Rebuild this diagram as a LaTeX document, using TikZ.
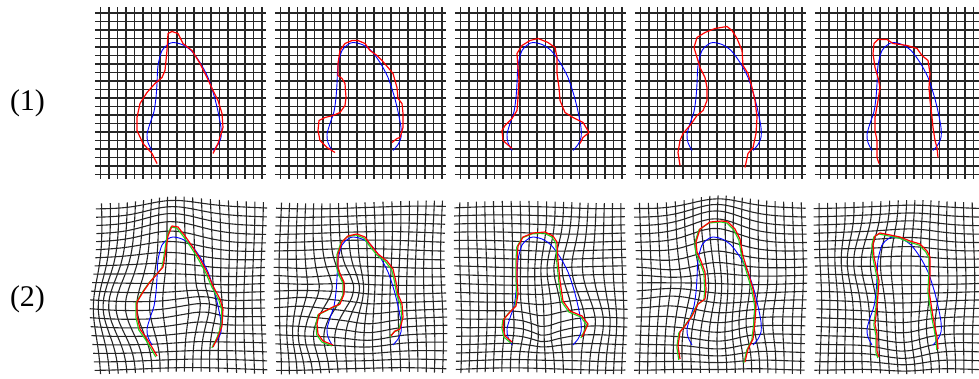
\documentclass[tikz,border=0pt]{standalone}
\usepackage{fontspec}
\setmainfont{Liberation Serif}
\definecolor{gtgreen}{RGB}{30,215,30}
\newcommand\plaingrid{\foreach \k in {0,...,19}{%
  \draw[gridline] ({5.5+8.5*\k},0) -- ({5.5+8.5*\k},171);
  \draw[gridline] (0,{5.5+8.5*\k}) -- (171,{5.5+8.5*\k});}}
\newcommand\warpgrid{\foreach \k in {0,...,19}{%
  \pgfmathsetmacro\gc{0.055+0.085*\k}%
  \draw[gridline] plot[smooth,variable=\t,domain=0:1.71,samples=17] ({100*(\gc+wx(\gc,\t))},{100*(\t+wy(\gc,\t))});
  \draw[gridline] plot[smooth,variable=\t,domain=0:1.71,samples=17] ({100*(\t+wx(\t,\gc))},{100*(\gc+wy(\t,\gc))});}}
\newcommand\tmplcurve{\draw[tmpl] plot[smooth] coordinates {(57,143) (53,135) (52,127) (55,116) (59,104) (61,90) (62,76) (63,58) (67,43) (73,37) (78,35) (87,37) (96,43) (105,55) (113,70) (119,88) (123,104) (126,120) (126,130) (123,137) (118,143)};}
\newcommand\estpair[1]{\draw[gtc] plot coordinates {#1};
  \draw[est] plot coordinates {#1};}
\begin{document}
\begin{tikzpicture}[x=1pt,y=1pt,
  gridline/.style={line width=1.1pt,black!85},
  tmpl/.style={blue,line width=0.9pt},
  est/.style={red,line width=1.2pt,line join=round},
  gtc/.style={gtgreen,line width=1.1pt,line join=round,shift={(-1.2,1)}},
  lab/.style={font=\fontsize{30}{36}\selectfont},
  declare function={gb(\pu,\pv,\pc,\pd,\ps)=exp(-((\pu-\pc)^2+(\pv-\pd)^2)/\ps);}]
\useasboundingbox (0,0) rectangle (979,378);
\clip (0,0) rectangle (979,378);
\node[lab] (lab1) at (27.5,275) {(1)};
\node[lab] (lab2) at (27.5,79) {(2)};
% row 1
\begin{scope}[shift={(95,370.5)},y=-1pt]
\plaingrid \tmplcurve
\draw[est] plot coordinates {(62,156) (57,146) (48,136) (42,123) (42,110) (45,96) (52,85) (60,76) (67,70) (70,63) (72,43) (73,26) (77,24) (83,26) (88,36) (97,43) (105,56) (112,70) (118,83) (123,93) (127,106) (128,120) (123,136) (118,146)};
\end{scope}
\begin{scope}[shift={(275,370.5)},y=-1pt]
\plaingrid \tmplcurve
\draw[est] plot coordinates {(60,145) (52,140) (45,133) (43,123) (44,113) (50,110) (58,108) (65,105) (70,98) (71,90) (70,76) (67,71) (63,68) (63,56) (65,43) (70,36) (77,33) (83,33) (90,36) (95,43) (102,48) (107,53) (113,60) (118,66) (122,80) (123,91) (127,96) (128,106) (128,120) (125,130) (122,131) (117,135)};
\end{scope}
\begin{scope}[shift={(455,370.5)},y=-1pt]
\plaingrid \tmplcurve
\draw[est] plot coordinates {(57,141) (48,133) (47,123) (50,118) (57,111) (62,103) (63,90) (64,73) (63,60) (62,46) (67,38) (75,33) (83,31) (93,35) (100,40) (102,50) (102,66) (104,80) (105,93) (110,105) (118,110) (128,115) (134,125) (128,130) (125,136)};
\end{scope}
\begin{scope}[shift={(635,370.5)},y=-1pt]
\plaingrid \tmplcurve
\draw[est] plot coordinates {(45,158) (43,145) (45,133) (48,126) (55,118) (62,108) (68,103) (72,93) (72,80) (70,70) (65,60) (62,50) (59,40) (62,30) (70,25) (80,21) (92,19) (97,23) (102,31) (107,43) (108,58) (113,66) (117,80) (120,93) (122,110) (121,126) (118,140) (113,146) (110,160)};
\end{scope}
\begin{scope}[shift={(815,370.5)},y=-1pt]
\plaingrid \tmplcurve
\draw[est] plot coordinates {(64,156) (62,150) (62,133) (60,123) (60,110) (63,93) (65,80) (63,70) (60,60) (58,46) (59,36) (63,32) (72,32) (78,36) (92,38) (102,41) (107,48) (113,53) (115,66) (114,80) (115,93) (117,110) (118,120) (120,133) (122,140) (123,150)};
\end{scope}
% row 2
\begin{scope}[shift={(95,176)},y=-1pt,declare function={
  wx(\pu,\pv)=-0.18*gb(\pu,\pv,0.42,1.05,0.12)+0.07*gb(\pu,\pv,1.05,1.10,0.05)+0.014*sin(190*\pv+260*\pu+30);
  wy(\pu,\pv)=-0.10*gb(\pu,\pv,0.78,0.30,0.12)-0.07*gb(\pu,\pv,1.00,1.10,0.05)+0.014*sin(170*\pu+230*\pv+80);}]
\warpgrid \tmplcurve
\estpair{(62,154) (58,147) (52,137) (45,127) (42,114) (42,100) (48,90) (55,80) (62,72) (68,65) (70,54) (73,34) (77,24) (83,25) (90,34) (97,44) (105,57) (112,70) (118,84) (125,97) (128,107) (127,124) (123,135) (118,145)}
\end{scope}
\begin{scope}[shift={(275,176)},y=-1pt,declare function={
  wx(\pu,\pv)=-0.11*gb(\pu,\pv,0.42,1.30,0.07)+0.13*gb(\pu,\pv,0.62,0.88,0.05)+0.014*sin(210*\pv+240*\pu+120);
  wy(\pu,\pv)=0.05*gb(\pu,\pv,0.95,1.25,0.06)-0.3*(\pv-0.88)*gb(\pu,\pv,0.30,0.88,0.05)+0.014*sin(160*\pu+250*\pv+20);}]
\warpgrid \tmplcurve
\estpair{(58,143) (48,139) (43,132) (42,122) (44,112) (50,109) (58,105) (65,102) (69,92) (69,80) (65,72) (63,65) (63,52) (67,40) (73,34) (82,32) (90,35) (95,42) (103,52) (112,59) (118,67) (121,80) (123,92) (127,102) (128,115) (125,127) (120,129) (116,134)}
\end{scope}
\begin{scope}[shift={(455,176)},y=-1pt,declare function={
  wx(\pu,\pv)=0.08*gb(\pu,\pv,1.30,1.20,0.06)-0.08*gb(\pu,\pv,1.12,0.65,0.08)+0.05*gb(\pu,\pv,0.72,1.25,0.05)-0.05*gb(\pu,\pv,1.05,1.25,0.05)+0.012*sin(180*\pv+250*\pu+200);
  wy(\pu,\pv)=0.10*gb(\pu,\pv,0.90,1.22,0.05)+0.012*sin(190*\pu+220*\pv+150);}]
\warpgrid \tmplcurve
\estpair{(57,140) (50,134) (48,125) (49,117) (55,110) (61,104) (63,92) (62,75) (62,59) (63,44) (68,35) (78,31) (90,30) (98,34) (102,40) (103,59) (105,79) (108,99) (115,109) (127,114) (133,122) (130,129) (127,135)}
\end{scope}
\begin{scope}[shift={(635,176)},y=-1pt,declare function={
  wx(\pu,\pv)=0.10*gb(\pu,\pv,0.60,0.85,0.10)-0.07*gb(\pu,\pv,1.26,1.20,0.08)+0.014*sin(170*\pv+230*\pu+300);
  wy(\pu,\pv)=-0.13*gb(\pu,\pv,0.80,0.30,0.12)+0.06*gb(\pu,\pv,0.85,1.35,0.08)-0.45*(\pv-0.82)*gb(\pu,\pv,0.35,0.82,0.06)+0.012*sin(200*\pu+240*\pv+45);}]
\warpgrid \tmplcurve
\estpair{(45,157) (43,144) (45,130) (50,124) (57,114) (63,102) (70,97) (71,87) (70,70) (66,59) (62,50) (61,40) (65,27) (75,20) (87,19) (93,20) (100,27) (105,37) (108,54) (113,70) (118,87) (121,104) (120,120) (118,137) (113,147) (110,160)}
\end{scope}
\begin{scope}[shift={(815,176)},y=-1pt,declare function={
  wx(\pu,\pv)=-0.11*gb(\pu,\pv,0.55,0.60,0.10)-0.06*gb(\pu,\pv,1.22,1.25,0.08)+0.014*sin(190*\pv+250*\pu+250);
  wy(\pu,\pv)=0.08*gb(\pu,\pv,0.90,1.40,0.08)-0.04*gb(\pu,\pv,1.00,0.40,0.10)+0.012*sin(180*\pu+210*\pv+100);}]
\warpgrid \tmplcurve
\estpair{(64,155) (62,149) (62,132) (60,122) (62,105) (63,92) (64,79) (62,69) (59,55) (58,42) (60,34) (65,31) (75,33) (85,35) (95,39) (105,42) (112,49) (115,55) (115,72) (114,89) (116,102) (118,115) (120,125) (122,135) (123,147)}
\end{scope}
\end{tikzpicture}
\end{document}
